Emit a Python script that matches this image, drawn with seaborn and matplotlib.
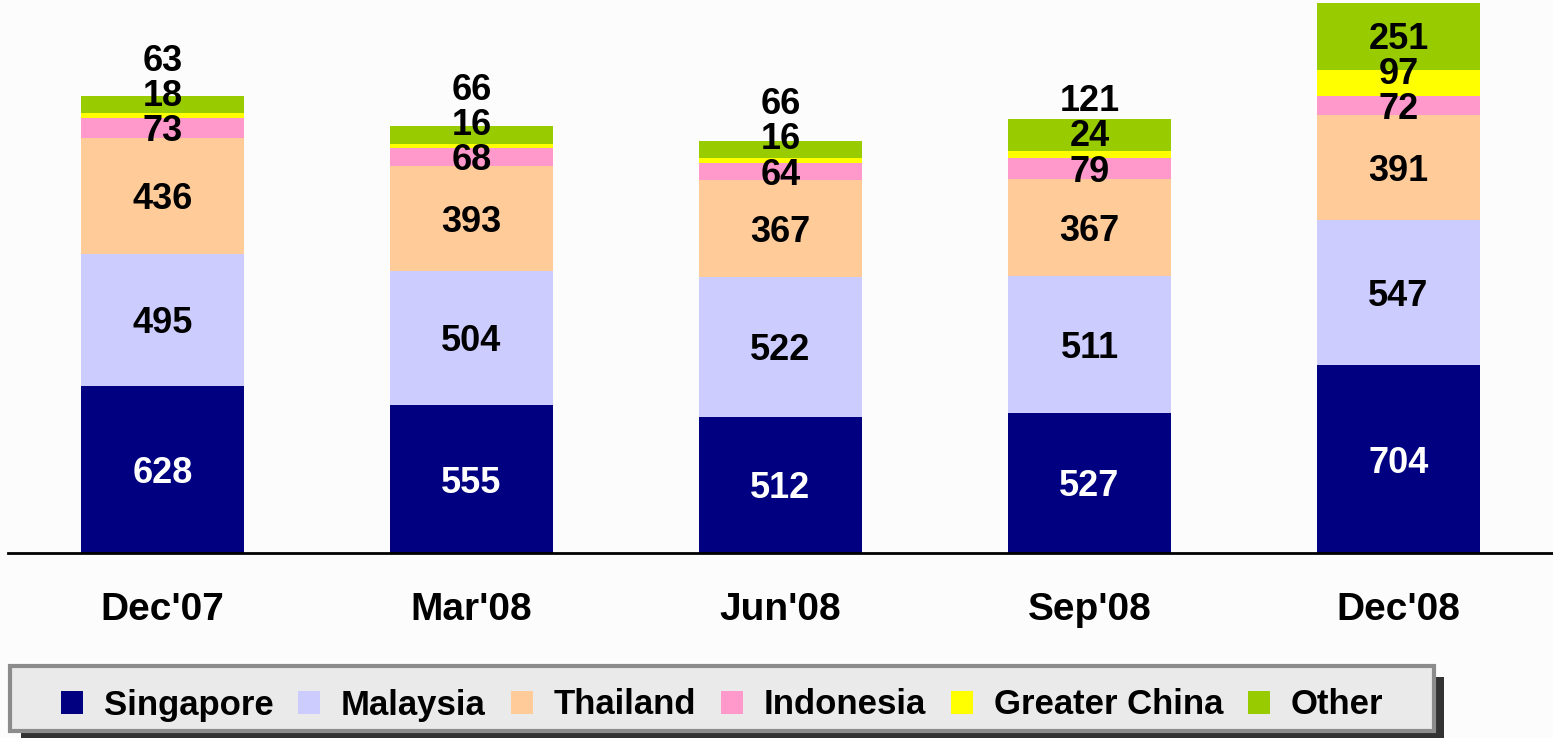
import matplotlib
matplotlib.use("Agg")
import matplotlib.pyplot as plt
from matplotlib.patches import Rectangle, Patch
import numpy as np
import pandas as pd
import seaborn as sns

periods = ["Dec'07", "Mar'08", "Jun'08", "Sep'08", "Dec'08"]
series_names = ["Singapore", "Malaysia", "Thailand", "Indonesia", "Greater China", "Other"]
singapore = [628, 555, 512, 527, 704]
malaysia = [495, 504, 522, 511, 547]
thailand = [436, 393, 367, 367, 391]
indonesia = [73, 68, 64, 79, 72]
greater_china = [18, 16, 16, 24, 97]
other = [63, 66, 66, 121, 251]

colors = ["#000080", "#CCCCFF", "#FFCC99", "#FF99CC", "#FFFF00", "#99CC00"]
label_colors = ["white", "black", "black", "black", "black", "black"]

sns.set_theme(style="white")
plt.rcParams["font.family"] = ["Liberation Sans", "DejaVu Sans"]
plt.rcParams["font.weight"] = "bold"
plt.rcParams["text.color"] = "black"
plt.rcParams["xtick.color"] = "black"
plt.rcParams["xtick.labelcolor"] = "black"

W, H = 1553, 738
fig = plt.figure(figsize=(W / 100, H / 100), dpi=100)
fig.patch.set_facecolor("#FCFCFC")
ax = fig.add_axes([8 / W, 1 - 553 / H, 1545 / W, 553 / H])
ax.set_facecolor("#FCFCFC")

all_series = [singapore, malaysia, thailand, indonesia, greater_china, other]
bottom = np.zeros(len(periods))
centers = []
for name, vals, col in zip(series_names, all_series, colors):
    df = pd.DataFrame({"period": periods, "value": vals})
    sns.barplot(data=df, x="period", y="value", order=periods, color=col,
                width=0.53, bottom=bottom, ax=ax, saturation=1, linewidth=0,
                errorbar=None)
    centers.append(bottom + np.array(vals) / 2)
    bottom = bottom + np.array(vals)

ax.set_ylim(0, 2075)
ax.set_xlim(-0.5, 4.5)

# data labels, nudged upward so small segments stay readable
gap = 132
for j in range(len(periods)):
    prev = None
    for i, vals in enumerate(all_series):
        y = centers[i][j]
        if i >= 3 and prev is not None:
            y = max(y, prev + gap)
        prev = y
        ax.text(j, y, str(vals[j]), ha="center", va="center_baseline",
                fontsize=26, fontweight="bold", color=label_colors[i])

for s in ["left", "right", "top"]:
    ax.spines[s].set_visible(False)
ax.spines["bottom"].set_color("black")
ax.spines["bottom"].set_linewidth(2)
ax.set_yticks([])
ax.set_xlabel("")
ax.set_ylabel("")
ax.tick_params(axis="x", length=0, pad=28, labelsize=28, labelcolor="black")
for t in ax.get_xticklabels():
    t.set_fontweight("bold")
    t.set_color("black")

# legend box with shadow
def fig_rect(x0, y0, x1, y1, **kw):
    r = Rectangle((x0 / W, 1 - y1 / H), (x1 - x0) / W, (y1 - y0) / H,
                  transform=fig.transFigure, **kw)
    fig.patches.append(r)

fig_rect(21, 677, 1444, 745, facecolor="#333333", edgecolor="none", zorder=1)
fig_rect(10, 666, 1434, 731, facecolor="#EAEAEA", edgecolor="#8C8C8C",
         linewidth=3, zorder=2)

handles = [Patch(facecolor=c, edgecolor="none") for c in colors]
leg = fig.legend(handles, series_names, loc="center", ncol=6,
                 bbox_to_anchor=(722 / W, 1 - 705 / H), frameon=False,
                 prop={"size": 25, "weight": "bold"}, handlelength=0.63,
                 handleheight=0.63, handletextpad=0.6, columnspacing=0.72,
                 labelcolor="black")
leg.set_zorder(3)

fig.savefig("out.png", dpi=100, facecolor=fig.get_facecolor())
